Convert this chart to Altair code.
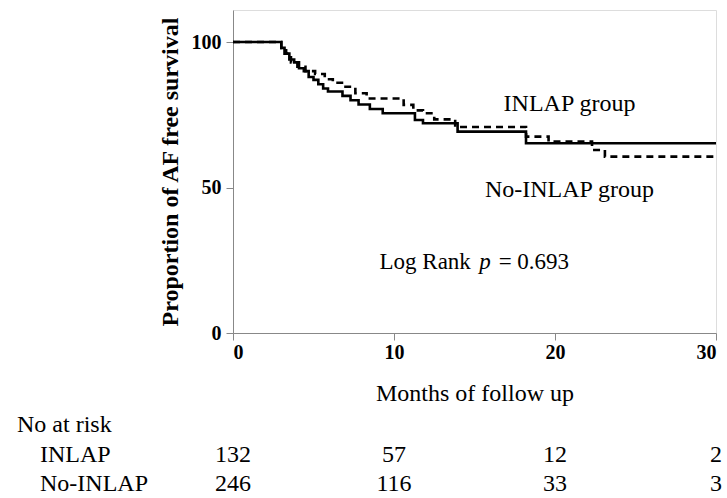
import altair as alt
import pandas as pd

# Kaplan-Meier step points (months, % AF free survival)
inlap_months = [0, 3.0, 3.2, 3.5, 3.8, 4.1, 4.4, 4.7, 5.0, 5.3, 5.6, 5.9, 6.8, 7.3, 7.8, 8.5, 9.3, 11.3, 11.8, 13.95, 18.2, 30]
inlap_surv = [100, 98, 96, 94, 93, 91, 90, 88, 87, 85.5, 84, 83, 81.5, 80, 78.5, 77, 75.5, 73.2, 72.1, 69.2, 65.2, 65.2]

noinlap_months = [0, 3.0, 3.3, 3.6, 4.0, 4.5, 5.1, 5.7, 6.2, 6.9, 7.6, 8.3, 10.6, 11.2, 11.8, 12.5, 13.8, 18.2, 19.6, 22.3, 23.1, 30]
noinlap_surv = [100, 98, 96, 93, 91.5, 90, 89, 87.2, 86, 84.6, 82.4, 80.6, 78.4, 76.5, 75.5, 73.4, 70.8, 67.5, 65.8, 62.9, 60.6, 60.6]

# Numbers at risk
risk_months = [0, 10, 20, 30]
inlap_risk = [132, 57, 12, 2]
noinlap_risk = [246, 116, 33, 3]

x_ticks = [0, 10, 20, 30]
y_ticks = [0, 50, 100]

SERIF = "Liberation Serif"
FS = 24

km = pd.concat([
    pd.DataFrame({"month": inlap_months, "surv": inlap_surv, "group": "INLAP"}),
    pd.DataFrame({"month": noinlap_months, "surv": noinlap_surv, "group": "No-INLAP"}),
])

xs = alt.Scale(domain=[0, 30], nice=False)
ys = alt.Scale(domain=[0, 111], nice=False)

xax = alt.Axis(values=x_ticks, title="Months of follow up", titleFont=SERIF, titleFontWeight="normal",
               titleFontSize=FS, titlePadding=19, labelFont=SERIF, labelFontWeight="bold",
               labelFontSize=20, labelPadding=2, grid=False, tickSize=7)
yax = alt.Axis(values=y_ticks, title="Proportion of AF free survival", titleFont=SERIF,
               titleFontWeight="bold", titleFontSize=FS, titlePadding=9, labelFont=SERIF,
               labelFontWeight="bold", labelFontSize=20, labelPadding=5, grid=False, tickSize=7)

solid = alt.Chart(km[km.group == "INLAP"]).mark_line(
    interpolate="step-after", color="black", strokeWidth=2.6
).encode(x=alt.X("month:Q", scale=xs, axis=xax), y=alt.Y("surv:Q", scale=ys, axis=yax))

dashed = alt.Chart(km[km.group == "No-INLAP"]).mark_line(
    interpolate="step-after", color="black", strokeWidth=2.6, strokeDash=[7, 5]
).encode(x=alt.X("month:Q", scale=xs), y=alt.Y("surv:Q", scale=ys))

ann = pd.DataFrame({
    "month": [20.9, 20.9, 9.1, 15.3, 16.5],
    "surv": [78.6, 49.2, 24.4, 24.4, 24.4],
    "label": ["INLAP group", "No-INLAP group", "Log Rank", "p", "= 0.693"],
})

ann_center = alt.Chart(ann.iloc[:2]).mark_text(font=SERIF, fontSize=FS, color="black", align="center").encode(
    x=alt.X("month:Q", scale=xs), y=alt.Y("surv:Q", scale=ys), text="label:N")
ann_norm = alt.Chart(ann.iloc[[2, 4]]).mark_text(font=SERIF, fontSize=23, color="black", align="left").encode(
    x=alt.X("month:Q", scale=xs), y=alt.Y("surv:Q", scale=ys), text="label:N")
ann_it = alt.Chart(ann.iloc[[3]]).mark_text(font=SERIF, fontSize=23, color="black", align="left",
                                            fontStyle="italic").encode(
    x=alt.X("month:Q", scale=xs), y=alt.Y("surv:Q", scale=ys), text="label:N")

risk = pd.DataFrame({"month": risk_months + risk_months,
                     "n": inlap_risk + noinlap_risk,
                     "row": ["INLAP"] * 4 + ["No-INLAP"] * 4})

risk_inlap = alt.Chart(risk[risk.row == "INLAP"]).mark_text(font=SERIF, fontSize=FS, color="black", align="center").encode(
    x=alt.X("month:Q", scale=xs), y=alt.value(445), text="n:Q")
risk_no = alt.Chart(risk[risk.row == "No-INLAP"]).mark_text(font=SERIF, fontSize=FS, color="black", align="center").encode(
    x=alt.X("month:Q", scale=xs), y=alt.value(474), text="n:Q")

row_labels = pd.DataFrame({"label": ["No at risk", "INLAP", "No-INLAP"],
                           "xpix": [-216, -193, -193], "ypix": [415, 445, 474]})
labels = alt.Chart(row_labels).mark_text(font=SERIF, fontSize=FS, color="black", align="left").encode(
    x=alt.X("xpix:Q", scale=None), y=alt.Y("ypix:Q", scale=None), text="label:N")

chart = alt.layer(solid, dashed, ann_center, ann_norm, ann_it, risk_inlap, risk_no, labels).properties(
    width=483, height=323,
    padding={"left": 233, "top": 10, "right": 11, "bottom": 165},
    autosize=alt.AutoSizeParams(type="none"),
).configure_view(stroke=None).configure_axis(
    domainColor="black", domainWidth=2.5, tickColor="black", tickWidth=2.5,
    labelColor="black", titleColor="black"
).configure(background="white")

chart.save("out.html", embed_options={"renderer": "svg", "actions": False})
